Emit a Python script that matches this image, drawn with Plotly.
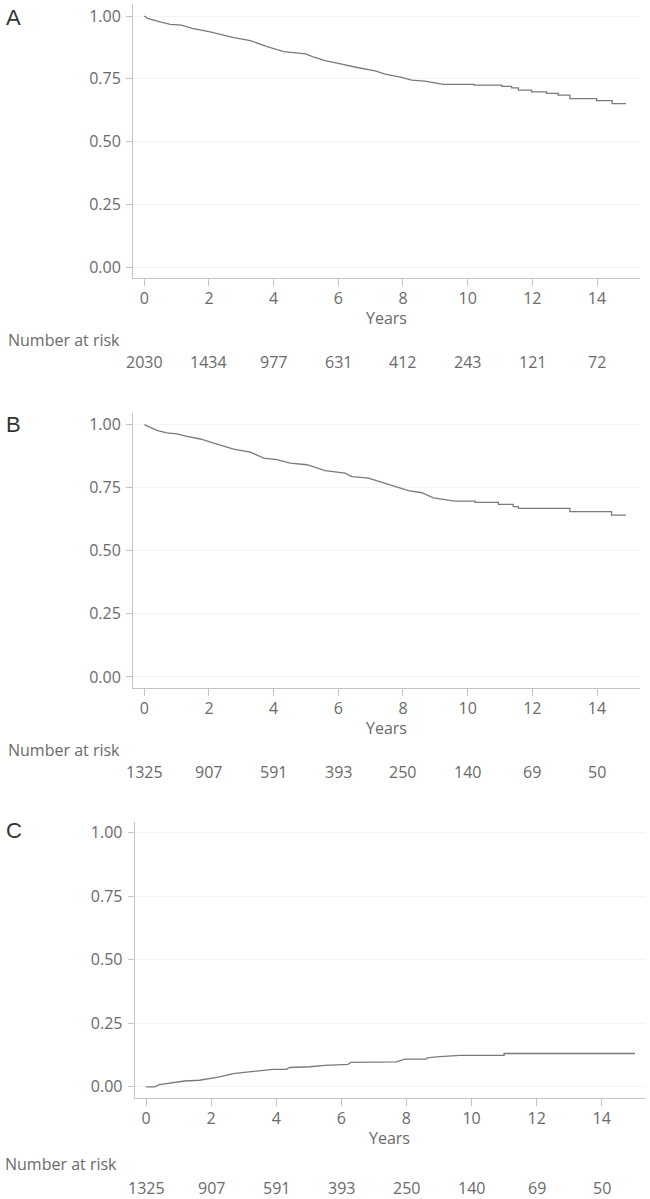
import plotly.graph_objects as go

# ---------------- data ----------------
years_A = [0, 0.1, 0.49, 0.80, 1.15, 1.48, 2.0, 2.77, 3.28, 3.80, 4.31, 4.99, 5.2, 5.59, 6.0, 6.31, 6.62,
           7.14, 7.45, 7.96, 8.27, 8.68, 9.25, 10.2, 10.2, 11.05, 11.05, 11.36, 11.36, 11.57, 11.57,
           11.98, 11.98, 12.44, 12.44, 12.80, 12.80, 13.16, 13.16, 13.99, 13.99, 14.47, 14.47, 14.9]
surv_A = [1.0, 0.991, 0.977, 0.967, 0.964, 0.951, 0.9375, 0.914, 0.902, 0.878, 0.858, 0.849, 0.838, 0.822,
          0.811, 0.802, 0.794, 0.782, 0.769, 0.756, 0.745, 0.741, 0.728, 0.728, 0.725, 0.725, 0.720,
          0.720, 0.714, 0.714, 0.705, 0.705, 0.698, 0.698, 0.692, 0.692, 0.685, 0.685, 0.671, 0.671,
          0.663, 0.663, 0.651, 0.651]

years_B = [0, 0.39, 0.70, 1.01, 1.32, 1.73, 2.25, 2.76, 3.28, 3.69, 4.10, 4.51, 5.03, 5.59, 6.21, 6.42,
           6.93, 7.45, 7.76, 8.17, 8.58, 8.94, 9.25, 9.61, 10.23, 10.23, 10.95, 10.95, 11.41, 11.41,
           11.57, 11.57, 13.16, 13.16, 14.45, 14.45, 14.9]
surv_B = [1.0, 0.977, 0.967, 0.963, 0.953, 0.943, 0.923, 0.903, 0.891, 0.867, 0.861, 0.847, 0.841, 0.818,
          0.808, 0.794, 0.788, 0.768, 0.754, 0.738, 0.730, 0.710, 0.704, 0.697, 0.697, 0.692, 0.692,
          0.684, 0.684, 0.675, 0.675, 0.668, 0.668, 0.655, 0.655, 0.641, 0.641]

years_C = [0, 0.26, 0.41, 1.03, 1.18, 1.64, 2.26, 2.67, 3.18, 3.49, 3.90, 4.31, 4.41, 5.03, 5.49, 6.20,
           6.29, 7.69, 7.85, 7.95, 8.60, 8.64, 8.92, 9.59, 9.64, 11.0, 11.0, 15.02]
inc_C = [0.0, 0.0, 0.009, 0.0196, 0.023, 0.026, 0.039, 0.052, 0.059, 0.066, 0.069, 0.069, 0.076, 0.079,
         0.084, 0.088, 0.096, 0.098, 0.105, 0.109, 0.109, 0.114, 0.118, 0.121, 0.124, 0.124, 0.131, 0.131]

risk_years = [0, 2, 4, 6, 8, 10, 12, 14]
risk_A = [2030, 1434, 977, 631, 412, 243, 121, 72]
risk_B = [1325, 907, 591, 393, 250, 140, 69, 50]
risk_C = [1325, 907, 591, 393, 250, 140, 69, 50]

y_ticks = [0, 0.25, 0.5, 0.75, 1.0]
y_ticktext = ["0.00", "0.25", "0.50", "0.75", "1.00"]
x_ticks = [0, 2, 4, 6, 8, 10, 12, 14]
panel_labels = ["A", "B", "C"]

# ---------------- layout helpers ----------------
W, H = 650, 1199
FONT = "Open Sans"
TICK_COL = "#6a6a6a"
AXIS_COL = "#c4c4c4"
LINE_COL = "#7a7a7a"


def px_x(px):
    return px / W


def px_y(py):
    return 1 - py / H


panels = [
    dict(x=years_A, y=surv_A, risk=risk_A, dom_x=(133, 640), dom_y=(4, 278.3),
         yrange=[-0.045, 1.048],
         years_y=318, nar_y=340.5, num_y=362, nar_x=6, lab_y=17),
    dict(x=years_B, y=surv_B, risk=risk_B, dom_x=(133, 640), dom_y=(413, 688.3),
         yrange=[-0.045, 1.046],
         years_y=728, nar_y=750, num_y=771.5, nar_x=6, lab_y=425),
    dict(x=years_C, y=inc_C, risk=risk_C, dom_x=(134.7, 645), dom_y=(821.7, 1098.3),
         yrange=[-0.045, 1.042],
         years_y=1138, nar_y=1164, num_y=1187.5, nar_x=3, lab_y=830),
]

fig = go.Figure()
annotations = []
for i, p in enumerate(panels):
    sfx = "" if i == 0 else str(i + 1)
    xa, ya = "xaxis" + sfx, "yaxis" + sfx
    xr, yr = "x" + sfx, "y" + sfx
    fig.add_trace(go.Scatter(x=p["x"], y=p["y"], mode="lines", xaxis=xr, yaxis=yr,
                             line=dict(color=LINE_COL, width=1.3), showlegend=False,
                             hoverinfo="skip"))
    x0, x1 = p["dom_x"]
    t0, b0 = p["dom_y"]
    fig.update_layout(**{
        xa: dict(domain=[px_x(x0), px_x(x1)], range=[-0.35, 15.33], anchor=yr,
                 tickvals=x_ticks, ticks="outside", ticklen=7, tickcolor=AXIS_COL,
                 showline=True, linecolor=AXIS_COL, linewidth=1, showgrid=False,
                 zeroline=False, ticklabelstandoff=-2,
                 tickfont=dict(family=FONT, size=16, color=TICK_COL)),
        ya: dict(domain=[px_y(b0), px_y(t0)], range=p["yrange"], anchor=xr,
                 tickvals=y_ticks, ticktext=y_ticktext, ticks="outside", ticklen=6,
                 tickcolor=AXIS_COL, showline=True, linecolor=AXIS_COL, linewidth=1,
                 showgrid=True, gridcolor="#f4f4f4", gridwidth=1, zeroline=False,
                 ticklabelstandoff=2,
                 tickfont=dict(family=FONT, size=16, color=TICK_COL)),
    })
    annotations.append(dict(text="Years", xref="paper", yref="paper",
                            x=px_x((x0 + x1) / 2), y=px_y(p["years_y"]), xanchor="center",
                            yanchor="middle", showarrow=False,
                            font=dict(family=FONT, size=16, color=TICK_COL)))
    annotations.append(dict(text="Number at risk", xref="paper", yref="paper",
                            x=px_x(p["nar_x"]), y=px_y(p["nar_y"]), xanchor="left",
                            yanchor="middle", showarrow=False,
                            font=dict(family=FONT, size=16, color=TICK_COL)))
    for t, n in zip(risk_years, p["risk"]):
        annotations.append(dict(text=str(n), xref=xr, yref="paper", x=t, y=px_y(p["num_y"]),
                                xanchor="center", yanchor="middle", showarrow=False,
                                font=dict(family=FONT, size=16, color=TICK_COL)))
    annotations.append(dict(text=panel_labels[i], xref="paper", yref="paper",
                            x=px_x(4), y=px_y(p["lab_y"]), xanchor="left", yanchor="middle",
                            showarrow=False,
                            font=dict(family="Liberation Sans", size=22, color="#333333")))

fig.update_layout(width=W, height=H, margin=dict(l=0, r=0, t=0, b=0),
                  paper_bgcolor="white", plot_bgcolor="white",
                  annotations=annotations, font=dict(family=FONT))

fig.write_html("out.html", config={"displayModeBar": False},
               post_script="document.body.style.margin='0';document.body.style.overflow='hidden';")
